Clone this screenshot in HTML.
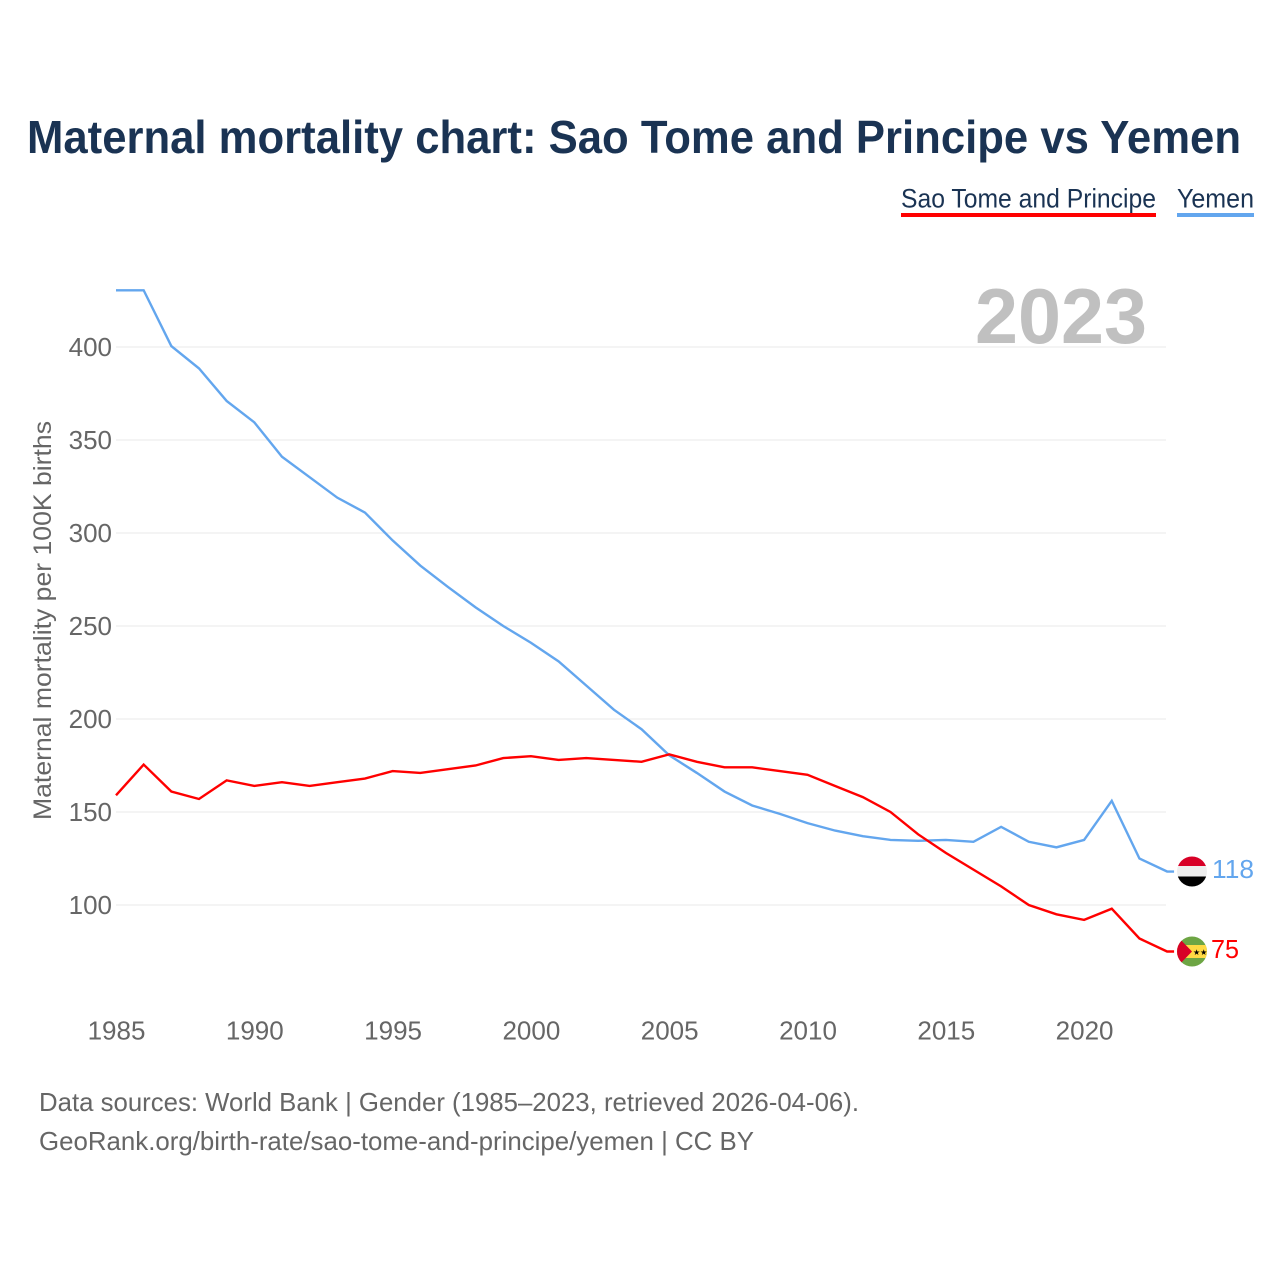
<!DOCTYPE html>
<html lang="en">
<head>
<meta charset="utf-8">
<title>Maternal mortality chart: Sao Tome and Principe vs Yemen</title>
<style>
html,body{margin:0;padding:0;background:#fff;width:1280px;height:1280px;overflow:hidden}
svg{display:block;font-family:"Liberation Sans",sans-serif}
</style>
</head>
<body>
<svg id="chart" xmlns="http://www.w3.org/2000/svg" width="1280" height="1280" viewBox="0 0 1280 1280">
  <defs>
    <clipPath id="clip-flag-ye"><circle cx="1192" cy="871.5" r="15"></circle></clipPath>
    <clipPath id="clip-flag-st"><circle cx="1192" cy="951.5" r="15"></circle></clipPath>
  </defs>
  <text x="27" y="153" font-size="46" font-weight="700" fill="#1a3353" textLength="1214" lengthAdjust="spacingAndGlyphs">Maternal mortality chart: Sao Tome and Principe vs Yemen</text>

  <g>
    <text x="901" y="207.5" font-size="27" fill="#1a3353" textLength="255" lengthAdjust="spacingAndGlyphs">Sao Tome and Principe</text>
    <rect x="901" y="213" width="255" height="4" fill="#ff0000"></rect>
    <text x="1177" y="207.5" font-size="27" fill="#1a3353" textLength="77" lengthAdjust="spacingAndGlyphs">Yemen</text>
    <rect x="1177" y="213" width="77" height="4" fill="#63a6ee"></rect>
  </g>

  <g id="grid"></g>
  <text x="975" y="343" font-size="78" font-weight="700" fill="#c0c0c0" textLength="172" lengthAdjust="spacingAndGlyphs">2023</text>
  <g id="y-ticks"></g>
  <g id="x-ticks"></g>
  <text transform="translate(51 820) rotate(-90)" font-size="25" fill="#666666" textLength="399" lengthAdjust="spacingAndGlyphs">Maternal mortality per 100K births</text>

  <g id="series"></g>

  <g clip-path="url(#clip-flag-ye)">
    <rect x="1177" y="856" width="30" height="10" fill="#d80027"></rect>
    <rect x="1177" y="866" width="30" height="10.5" fill="#eeeeee"></rect>
    <rect x="1177" y="876.5" width="30" height="10.5" fill="#000000"></rect>
  </g>
  <g clip-path="url(#clip-flag-st)">
    <rect x="1177" y="936" width="30" height="31" fill="#6da544"></rect>
    <rect x="1177" y="945" width="30" height="13" fill="#ffda44"></rect>
    <polygon points="1177,936 1192,951.5 1177,967" fill="#d80027"></polygon>
    <text x="1193" y="955" font-size="8" fill="#000000">★★</text>
  </g>
  <text id="label-ye" x="1212" y="878" font-size="26" fill="#63a6ee" textLength="42" lengthAdjust="spacingAndGlyphs"></text>
  <text id="label-st" x="1211" y="958" font-size="26" fill="#ff0000" textLength="28" lengthAdjust="spacingAndGlyphs"></text>

  <g>
    <text x="39" y="1111" font-size="26" fill="#666666" textLength="820" lengthAdjust="spacingAndGlyphs">Data sources: World Bank | Gender (1985–2023, retrieved 2026-04-06).</text>
    <text x="39" y="1150" font-size="26" fill="#666666" textLength="715" lengthAdjust="spacingAndGlyphs">GeoRank.org/birth-rate/sao-tome-and-principe/yemen | CC BY</text>
  </g>
</svg>
<script>
const startYear = 1985;
const yemenValues = [430.5,430.5,400.5,388.5,371,359.5,341,330,319,311,296,282.5,271,260,250,241,231,218,205,194.5,180.5,171,161,153.5,149,144,140,137,135,134.5,135,134,142,134,131,135,156,125,118];
const saoTomeValues = [159,175.5,161,157,167,164,166,164,166,168,172,171,173,175,179,180,178,179,178,177,181,177,174,174,172,170,164,158,150,138,128,119,110,100,95,92,98,82,75];
const yTicks = [100,150,200,250,300,350,400];
const xTicks = [1985,1990,1995,2000,2005,2010,2015,2020];

const NS = 'http://www.w3.org/2000/svg';
function xScale(year) { return 116 + (year - 1985) * 27.66; }
function yScale(value) { return 905 - (value - 100) * 1.86; }

const grid = document.getElementById('grid');
const yGroup = document.getElementById('y-ticks');
yTicks.forEach(function (t) {
  const line = document.createElementNS(NS, 'line');
  
  
  line.setAttribute('x1', 116);
  line.setAttribute('x2', 1166);
  line.setAttribute('y1', yScale(t));
  line.setAttribute('y2', yScale(t));
  line.setAttribute('stroke', '#e8e8e8');
  line.setAttribute('stroke-width', 1);
  grid.appendChild(line);
  const label = document.createElementNS(NS, 'text');
  
  
  label.setAttribute('x', 112);
  label.setAttribute('y', yScale(t) + 9);
  label.setAttribute('text-anchor', 'end');
  label.setAttribute('font-size', 26);
  label.setAttribute('fill', '#666666');
  label.textContent = t;
  yGroup.appendChild(label);
});

const xGroup = document.getElementById('x-ticks');
xTicks.forEach(function (t) {
  const label = document.createElementNS(NS, 'text');
  
  
  label.setAttribute('x', xScale(t) + 0.5);
  label.setAttribute('y', 1039.5);
  label.setAttribute('text-anchor', 'middle');
  label.setAttribute('font-size', 26);
  label.setAttribute('fill', '#666666');
  label.textContent = t;
  xGroup.appendChild(label);
});

function linePoints(values) {
  const pts = values.map(function (v, i) { return xScale(startYear + i) + ',' + yScale(v); });
  pts.push((xScale(startYear + values.length - 1) + 7) + ',' + yScale(values[values.length - 1]));
  return pts.join(' ');
}
const seriesGroup = document.getElementById('series');

const yemenLine = document.createElementNS(NS, 'polyline');


yemenLine.setAttribute('points', linePoints(yemenValues));
yemenLine.setAttribute('fill', 'none');
yemenLine.setAttribute('stroke', '#63a6ee');
yemenLine.setAttribute('stroke-width', 2.4);
seriesGroup.appendChild(yemenLine);

const saoTomeLine = document.createElementNS(NS, 'polyline');


saoTomeLine.setAttribute('points', linePoints(saoTomeValues));
saoTomeLine.setAttribute('fill', 'none');
saoTomeLine.setAttribute('stroke', '#ff0000');
saoTomeLine.setAttribute('stroke-width', 2.4);
seriesGroup.appendChild(saoTomeLine);

document.getElementById('label-ye').textContent = Math.round(yemenValues[yemenValues.length - 1]);
document.getElementById('label-st').textContent = Math.round(saoTomeValues[saoTomeValues.length - 1]);
</script>
</body>
</html>
